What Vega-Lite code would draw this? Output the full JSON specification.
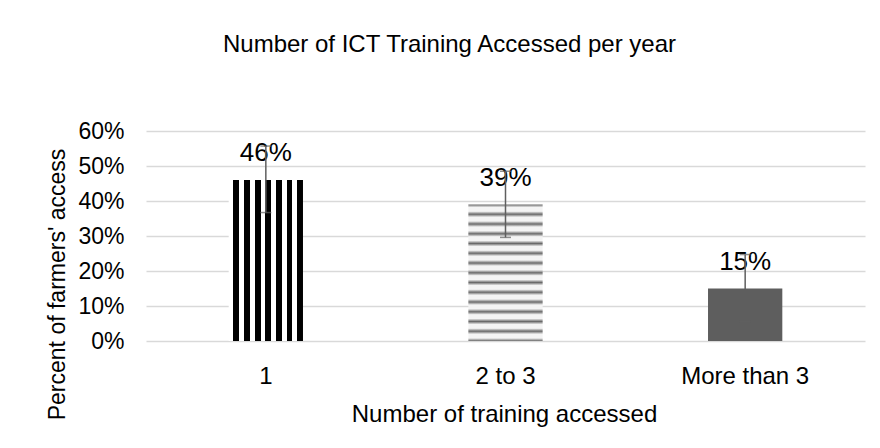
{
  "$schema": "https://vega.github.io/schema/vega-lite/v6.json",
  "autosize": "none",
  "width": 719,
  "height": 210,
  "padding": {"left": 146, "top": 131, "right": 15, "bottom": 107},
  "background": "white",
  "config": {
    "view": {"stroke": null},
    "font": "Liberation Sans",
    "axisY": {
      "tickCount": 7,
      "format": ".0%",
      "labelOverlap": false,
      "grid": true,
      "gridColor": "#d9d9d9",
      "gridWidth": 1.3,
      "domain": false,
      "ticks": false,
      "labelFont": "Liberation Sans",
      "labelFontSize": 23,
      "labelColor": "#000000",
      "labelPadding": 22,
      "titleFont": "Liberation Sans",
      "titleFontSize": 23,
      "titleFontWeight": "normal",
      "titleColor": "#000000",
      "titleAngle": -90,
      "titleX": -82,
      "titleY": 153,
      "titleBaseline": "alphabetic",
      "titleAlign": "center"
    }
  },
  "title": {
    "text": "Number of ICT Training Accessed per year",
    "font": "Liberation Sans",
    "fontSize": 24,
    "fontWeight": "normal",
    "color": "#000000",
    "anchor": "middle",
    "baseline": "alphabetic",
    "dx": -56,
    "offset": 44
  },
  "data": {
    "values": [
      {"cat": "1", "value": 0.46, "lo": 0.367, "hi": 0.557},
      {"cat": "2 to 3", "value": 0.39, "lo": 0.296, "hi": 0.485},
      {"cat": "More than 3", "value": 0.15, "lo": 0.056, "hi": 0.247}
    ]
  },
  "encoding": {
    "x": {
      "field": "cat",
      "type": "nominal",
      "sort": ["1", "2 to 3", "More than 3"],
      "scale": {"paddingInner": 0.69, "paddingOuter": 0.345},
      "axis": {
        "labelAngle": 0,
        "labelFont": "Liberation Sans",
        "labelFontSize": 24,
        "labelColor": "#000000",
        "labelPadding": 23,
        "domain": false,
        "ticks": false,
        "title": "Number of training accessed",
        "titleFont": "Liberation Sans",
        "titleFontSize": 24,
        "titleFontWeight": "normal",
        "titleColor": "#000000",
        "titleX": 358,
        "titleY": 80,
        "titleBaseline": "alphabetic",
        "titleAlign": "center"
      }
    }
  },
  "layer": [
    {
      "transform": [{"filter": "datum.cat === '1'"}],
      "mark": {
        "type": "bar",
        "fill": {
          "gradient": "linear", "x1": 0, "y1": 0, "x2": 1, "y2": 0,
          "stops": [
            {"offset": 0, "color": "#ffffff"}, {"offset": 0.0643, "color": "#ffffff"},
            {"offset": 0.0643, "color": "#000000"}, {"offset": 0.1429, "color": "#000000"},
            {"offset": 0.1429, "color": "#ffffff"}, {"offset": 0.2071, "color": "#ffffff"},
            {"offset": 0.2071, "color": "#000000"}, {"offset": 0.2857, "color": "#000000"},
            {"offset": 0.2857, "color": "#ffffff"}, {"offset": 0.35, "color": "#ffffff"},
            {"offset": 0.35, "color": "#000000"}, {"offset": 0.4286, "color": "#000000"},
            {"offset": 0.4286, "color": "#ffffff"}, {"offset": 0.4929, "color": "#ffffff"},
            {"offset": 0.4929, "color": "#000000"}, {"offset": 0.5714, "color": "#000000"},
            {"offset": 0.5714, "color": "#ffffff"}, {"offset": 0.6357, "color": "#ffffff"},
            {"offset": 0.6357, "color": "#000000"}, {"offset": 0.7143, "color": "#000000"},
            {"offset": 0.7143, "color": "#ffffff"}, {"offset": 0.7786, "color": "#ffffff"},
            {"offset": 0.7786, "color": "#000000"}, {"offset": 0.8571, "color": "#000000"},
            {"offset": 0.8571, "color": "#ffffff"}, {"offset": 0.9214, "color": "#ffffff"},
            {"offset": 0.9214, "color": "#000000"}, {"offset": 1, "color": "#000000"}
          ]
        }
      },
      "encoding": {
        "y": {
          "field": "value",
          "type": "quantitative",
          "title": "Percent of farmers' access",
          "scale": {"domain": [0, 0.6], "nice": false}
        }
      }
    },
    {
      "transform": [{"filter": "datum.cat === '2 to 3'"}],
      "mark": {
        "type": "bar",
        "fill": {
          "gradient": "linear", "x1": 0, "y1": 0, "x2": 0, "y2": 1,
          "stops": [
            {"offset": 0, "color": "#6a6a6a"}, {"offset": 0.0214, "color": "#f4f4f4"}, {"offset": 0.05, "color": "#f4f4f4"},
            {"offset": 0.0714, "color": "#6a6a6a"}, {"offset": 0.0929, "color": "#f4f4f4"}, {"offset": 0.1214, "color": "#f4f4f4"},
            {"offset": 0.1429, "color": "#6a6a6a"}, {"offset": 0.1643, "color": "#f4f4f4"}, {"offset": 0.1929, "color": "#f4f4f4"},
            {"offset": 0.2143, "color": "#6a6a6a"}, {"offset": 0.2357, "color": "#f4f4f4"}, {"offset": 0.2643, "color": "#f4f4f4"},
            {"offset": 0.2857, "color": "#6a6a6a"}, {"offset": 0.3071, "color": "#f4f4f4"}, {"offset": 0.3357, "color": "#f4f4f4"},
            {"offset": 0.3571, "color": "#6a6a6a"}, {"offset": 0.3786, "color": "#f4f4f4"}, {"offset": 0.4071, "color": "#f4f4f4"},
            {"offset": 0.4286, "color": "#6a6a6a"}, {"offset": 0.45, "color": "#f4f4f4"}, {"offset": 0.4786, "color": "#f4f4f4"},
            {"offset": 0.5, "color": "#6a6a6a"}, {"offset": 0.5214, "color": "#f4f4f4"}, {"offset": 0.55, "color": "#f4f4f4"},
            {"offset": 0.5714, "color": "#6a6a6a"}, {"offset": 0.5929, "color": "#f4f4f4"}, {"offset": 0.6214, "color": "#f4f4f4"},
            {"offset": 0.6429, "color": "#6a6a6a"}, {"offset": 0.6643, "color": "#f4f4f4"}, {"offset": 0.6929, "color": "#f4f4f4"},
            {"offset": 0.7143, "color": "#6a6a6a"}, {"offset": 0.7357, "color": "#f4f4f4"}, {"offset": 0.7643, "color": "#f4f4f4"},
            {"offset": 0.7857, "color": "#6a6a6a"}, {"offset": 0.8071, "color": "#f4f4f4"}, {"offset": 0.8357, "color": "#f4f4f4"},
            {"offset": 0.8571, "color": "#6a6a6a"}, {"offset": 0.8786, "color": "#f4f4f4"}, {"offset": 0.9071, "color": "#f4f4f4"},
            {"offset": 0.9286, "color": "#6a6a6a"}, {"offset": 0.95, "color": "#f4f4f4"}, {"offset": 0.9786, "color": "#f4f4f4"},
            {"offset": 1, "color": "#6a6a6a"}
          ]
        }
      },
      "encoding": {"y": {"field": "value", "type": "quantitative", "title": "Percent of farmers' access"}}
    },
    {
      "transform": [{"filter": "datum.cat === 'More than 3'"}],
      "mark": {"type": "bar", "fill": "#5e5e5e"},
      "encoding": {"y": {"field": "value", "type": "quantitative", "title": "Percent of farmers' access"}}
    },
    {
      "mark": {"type": "text", "dy": -27, "baseline": "middle", "align": "center", "font": "Liberation Sans", "fontSize": 26, "color": "#000000"},
      "encoding": {
        "y": {"field": "value", "type": "quantitative", "title": "Percent of farmers' access"},
        "text": {"field": "value", "type": "quantitative", "format": ".0%"}
      }
    },
    {
      "mark": {"type": "rule", "color": "#5f5f5f", "strokeWidth": 1.5},
      "encoding": {
        "y": {"field": "lo", "type": "quantitative", "title": "Percent of farmers' access"},
        "y2": {"field": "hi"}
      }
    },
    {
      "mark": {"type": "tick", "color": "#5f5f5f", "thickness": 1.5, "size": 11},
      "encoding": {"y": {"field": "lo", "type": "quantitative", "title": "Percent of farmers' access"}}
    },
    {
      "mark": {"type": "tick", "color": "#5f5f5f", "thickness": 1.5, "size": 11},
      "encoding": {"y": {"field": "hi", "type": "quantitative", "title": "Percent of farmers' access"}}
    }
  ]
}
